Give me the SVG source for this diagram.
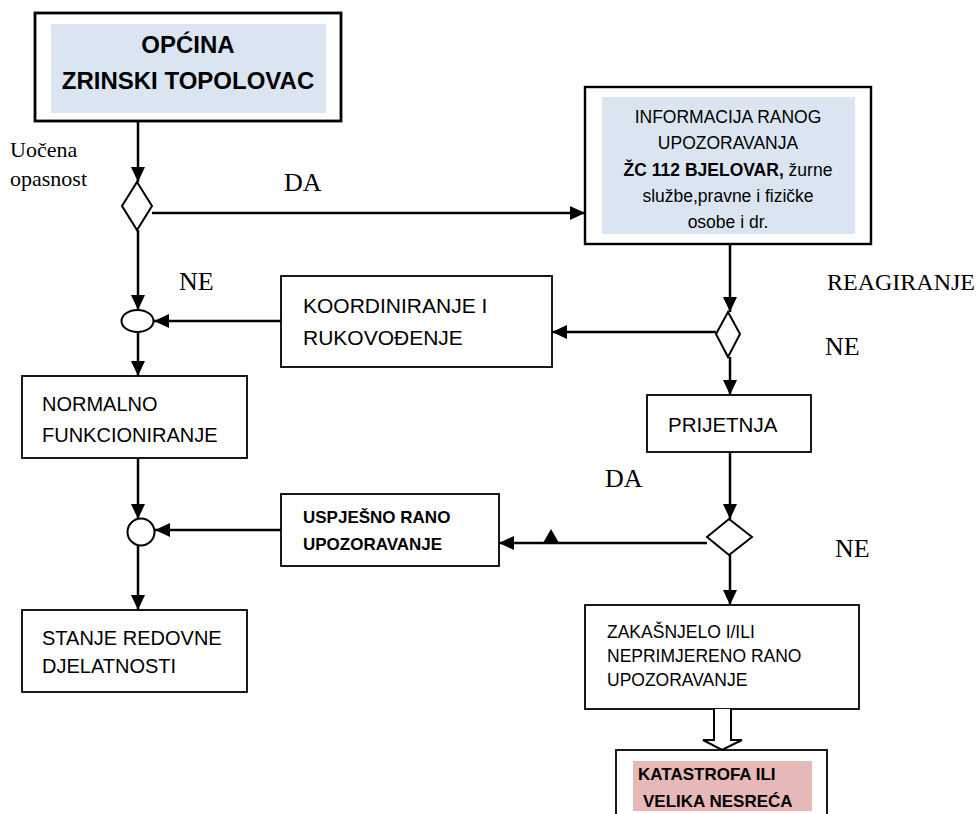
<svg xmlns="http://www.w3.org/2000/svg" width="976" height="814" viewBox="0 0 976 814">
<style>
.box{fill:#fff;stroke:#000;stroke-width:1.8}
.thick{fill:#fff;stroke:#000;stroke-width:2.8}
.blue{fill:#dbe5f1}
.pink{fill:#e6b8b7}
.t{font-family:"Liberation Sans",Arial,sans-serif;fill:#000}
.b{font-weight:bold}
.lbl{font-family:"Liberation Serif","Times New Roman",serif;fill:#000}
.ln{stroke:#000;stroke-width:2.5;fill:none}
.dec{fill:#fff;stroke:#000;stroke-width:2}
</style>
<defs>
<marker id="ah" viewBox="0 0 15 14" refX="15" refY="7" markerWidth="15" markerHeight="14" markerUnits="userSpaceOnUse" orient="auto">
<path d="M0,0 L15,7 L0,14 z" fill="#000"/>
</marker>
</defs>
<rect width="976" height="814" fill="#fff"/>

<g id="opcina">
<rect class="thick" x="35" y="13" width="306" height="108"/>
<rect class="blue" x="51" y="24" width="275" height="89"/>
<text class="t b" x="188" y="53" font-size="24" text-anchor="middle">OPĆINA</text>
<text class="t b" x="188" y="89" font-size="24" text-anchor="middle">ZRINSKI TOPOLOVAC</text>
</g>

<g id="info">
<rect class="thick" x="585" y="87" width="286" height="157" style="stroke-width:2.4"/>
<rect class="blue" x="602" y="97" width="253" height="137"/>
<g class="t" font-size="17.5" text-anchor="middle">
<text x="728" y="123">INFORMACIJA RANOG</text>
<text x="728" y="149">UPOZORAVANJA</text>
<text x="728" y="176"><tspan font-weight="bold">ŽC 112 BJELOVAR,</tspan> žurne</text>
<text x="728" y="202">službe,pravne i fizičke</text>
<text x="728" y="228">osobe i dr.</text>
</g>
</g>

<g id="d1"><polygon class="dec" points="137,182 152,206 137,230 122,206"/></g>
<g id="j1"><ellipse class="dec" cx="137.5" cy="321" rx="16" ry="11"/></g>
<g id="j2"><circle class="dec" cx="141" cy="532" r="13.5"/></g>
<g id="d2"><polygon class="dec" points="728,312 740,334 728,357 716,334"/></g>
<g id="d3"><polygon class="dec" points="729,519 752,537 729,555 707,537"/></g>

<g id="koord">
<rect class="box" x="281" y="276" width="271" height="91"/>
<text class="t" x="303" y="313" font-size="21">KOORDINIRANJE I</text>
<text class="t" x="303" y="345" font-size="21">RUKOVOĐENJE</text>
</g>

<g id="normalno">
<rect class="box" x="22" y="376" width="225" height="82"/>
<text class="t" x="42" y="411" font-size="20">NORMALNO</text>
<text class="t" x="42" y="442" font-size="20">FUNKCIONIRANJE</text>
</g>

<g id="prijetnja">
<rect class="box" x="647" y="395" width="164" height="57"/>
<text class="t" x="668" y="432" font-size="20.5">PRIJETNJA</text>
</g>

<g id="uspjesno">
<rect class="box" x="281" y="494" width="218" height="72"/>
<text class="t b" x="303" y="523" font-size="17">USPJEŠNO RANO</text>
<text class="t b" x="303" y="550" font-size="17">UPOZORAVANJE</text>
</g>

<g id="stanje">
<rect class="box" x="22" y="610" width="225" height="82"/>
<text class="t" x="42" y="645" font-size="20">STANJE REDOVNE</text>
<text class="t" x="42" y="673" font-size="20">DJELATNOSTI</text>
</g>

<g id="zakasnjelo">
<rect class="box" x="585" y="605" width="274" height="104"/>
<text class="t" x="607" y="638" font-size="17.5">ZAKAŠNJELO I/ILI</text>
<text class="t" x="607" y="662" font-size="17.5">NEPRIMJERENO RANO</text>
<text class="t" x="607" y="686" font-size="17.5">UPOZORAVANJE</text>
</g>

<g id="katastrofa">
<rect class="box" x="616" y="750" width="211" height="80"/>
<rect class="pink" x="633" y="761" width="179" height="50"/>
<text class="t b" x="638" y="780" font-size="17">KATASTROFA ILI</text>
<text class="t b" x="643" y="807" font-size="17">VELIKA NESREĆA</text>
</g>

<g id="labels">
<text class="lbl" x="10" y="157" font-size="22">Uočena</text>
<text class="lbl" x="10" y="186" font-size="22">opasnost</text>
<text class="lbl" x="284" y="191" font-size="26">DA</text>
<text class="lbl" x="179" y="290" font-size="26">NE</text>
<text class="lbl" x="827" y="290" font-size="24">REAGIRANJE</text>
<text class="lbl" x="825" y="355" font-size="26">NE</text>
<text class="lbl" x="605" y="487" font-size="26">DA</text>
<text class="lbl" x="835" y="557" font-size="26">NE</text>
</g>

<g id="connectors">
<line class="ln" x1="138" y1="121" x2="138" y2="182" marker-end="url(#ah)"/>
<line class="ln" x1="152" y1="213" x2="585" y2="213" marker-end="url(#ah)"/>
<line class="ln" x1="138" y1="230" x2="138" y2="310" marker-end="url(#ah)"/>
<line class="ln" x1="281" y1="321" x2="154" y2="321" marker-end="url(#ah)"/>
<line class="ln" x1="138" y1="332" x2="138" y2="376" marker-end="url(#ah)"/>
<line class="ln" x1="138" y1="458" x2="138" y2="519" marker-end="url(#ah)"/>
<line class="ln" x1="281" y1="530" x2="155" y2="530" marker-end="url(#ah)"/>
<line class="ln" x1="138" y1="546" x2="138" y2="610" marker-end="url(#ah)"/>
<line class="ln" x1="730" y1="244" x2="730" y2="312" marker-end="url(#ah)"/>
<line class="ln" x1="716" y1="332" x2="552" y2="332" marker-end="url(#ah)"/>
<line class="ln" x1="730" y1="357" x2="730" y2="395" marker-end="url(#ah)"/>
<line class="ln" x1="730" y1="452" x2="730" y2="519" marker-end="url(#ah)"/>
<line class="ln" x1="707" y1="543" x2="499" y2="543" marker-end="url(#ah)"/>
<polygon points="543,543 559,543 551,529" fill="#000"/>
<line class="ln" x1="730" y1="555" x2="730" y2="605" marker-end="url(#ah)"/>
<path d="M714,709 L714,740 L703,740 L722,750 L742,740 L731,740 L731,709" fill="#fff" stroke="#000" stroke-width="2"/>
</g>
</svg>
